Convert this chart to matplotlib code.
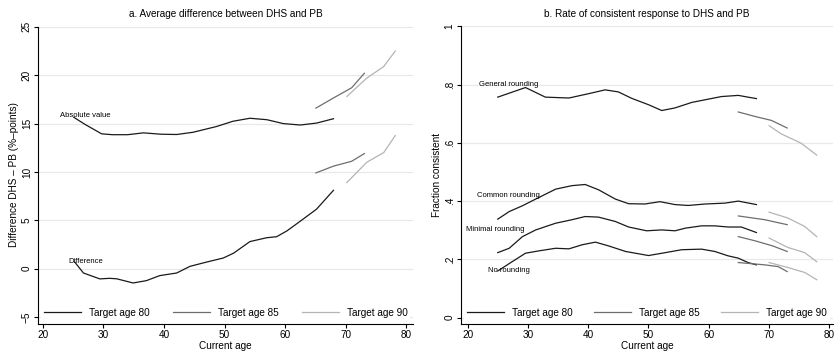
import matplotlib
matplotlib.use('Agg')
from matplotlib import pyplot as plt

plt.rcParams['font.family'] = ['Liberation Sans', 'DejaVu Sans']

# panel a: average difference DHS - PB
abs80_age = [25.1, 27.0, 29.7, 31.5, 34.0, 36.6, 39.5, 42.1, 44.8, 48.7, 51.4, 54.2, 57.0, 59.7, 62.5, 65.2, 68.0]
abs80_val = [15.65, 14.9, 13.94, 13.85, 13.85, 14.04, 13.9, 13.87, 14.1, 14.7, 15.24, 15.55, 15.4, 15.0, 14.85, 15.05, 15.5]
abs85_age = [65.1, 68.0, 71.0, 73.1]
abs85_val = [16.6, 17.65, 18.7, 20.2]
abs90_age = [70.2, 73.5, 76.3, 78.2]
abs90_val = [17.8, 19.7, 20.9, 22.5]

dif80_age = [25.3, 26.7, 29.4, 31.0, 32.2, 34.9, 37.1, 39.3, 42.1, 44.3, 47.1, 49.8, 51.5, 54.2, 57.0, 58.6, 60.3, 62.5, 65.2, 68.0]
dif80_val = [0.65, -0.45, -1.06, -1.0, -1.05, -1.48, -1.24, -0.72, -0.45, 0.24, 0.69, 1.1, 1.6, 2.8, 3.2, 3.3, 3.9, 4.9, 6.15, 8.1]
dif85_age = [65.1, 68.0, 71.0, 73.1]
dif85_val = [9.9, 10.6, 11.1, 11.9]
dif90_age = [70.2, 73.5, 76.3, 78.2]
dif90_val = [8.9, 11.0, 12.0, 13.76]

# panel b: fraction consistent
gen80_age = [25.0, 29.6, 32.9, 36.8, 40.1, 42.8, 45.0, 47.2, 50.0, 52.2, 54.4, 57.2, 59.9, 62.1, 64.9, 66.5, 67.9]
gen80_val = [0.757, 0.790, 0.757, 0.754, 0.769, 0.782, 0.775, 0.753, 0.731, 0.711, 0.720, 0.739, 0.750, 0.759, 0.763, 0.757, 0.752]
gen85_age = [64.9, 67.6, 70.4, 73.0]
gen85_val = [0.706, 0.691, 0.677, 0.651]
gen90_age = [70.0, 72.0, 75.3, 77.9]
gen90_val = [0.659, 0.631, 0.599, 0.558]

com80_age = [25.0, 26.9, 29.1, 31.3, 34.6, 37.3, 39.5, 41.7, 44.5, 46.7, 49.4, 51.9, 54.4, 56.6, 59.4, 62.7, 64.9, 67.9]
com80_val = [0.338, 0.364, 0.384, 0.407, 0.441, 0.453, 0.457, 0.439, 0.407, 0.391, 0.390, 0.398, 0.388, 0.385, 0.390, 0.393, 0.400, 0.388]
com85_age = [64.9, 69.3, 73.0]
com85_val = [0.349, 0.336, 0.319]
com90_age = [70.0, 73.1, 75.9, 77.9]
com90_val = [0.362, 0.342, 0.313, 0.278]

min80_age = [25.0, 26.9, 29.1, 31.3, 34.6, 37.3, 39.5, 41.7, 44.5, 46.7, 49.7, 52.2, 54.4, 56.1, 58.8, 61.0, 63.2, 65.4, 67.9]
min80_val = [0.223, 0.238, 0.278, 0.301, 0.324, 0.336, 0.347, 0.345, 0.330, 0.311, 0.298, 0.301, 0.298, 0.307, 0.315, 0.315, 0.311, 0.311, 0.292]
min85_age = [64.9, 67.6, 70.6, 73.0]
min85_val = [0.278, 0.264, 0.246, 0.227]
min90_age = [70.0, 73.1, 75.9, 77.9]
min90_val = [0.273, 0.241, 0.223, 0.192]

no80_age = [25.0, 27.4, 29.6, 31.8, 34.6, 36.8, 39.0, 41.2, 43.4, 46.2, 50.0, 52.8, 55.5, 58.8, 61.0, 63.2, 64.9, 66.5, 67.9]
no80_val = [0.160, 0.192, 0.221, 0.229, 0.238, 0.236, 0.250, 0.259, 0.246, 0.227, 0.213, 0.223, 0.233, 0.235, 0.227, 0.212, 0.204, 0.189, 0.181]
no85_age = [64.9, 69.3, 71.5, 73.0]
no85_val = [0.189, 0.181, 0.175, 0.158]
no90_age = [70.0, 73.1, 75.9, 77.9]
no90_val = [0.189, 0.172, 0.155, 0.130]

c80 = '#1a1a1a'
c85 = '#6e6e6e'
c90 = '#b4b4b4'
lw = 0.9

fig = plt.figure(figsize=(8.36, 3.51), dpi=100)
ax1 = fig.add_axes([0.0455, 0.077, 0.449, 0.852])
ax2 = fig.add_axes([0.5514, 0.077, 0.445, 0.852])


def style(ax, yticks, ylabels, ylim, xlim, ylab, title):
    ax.set_xlim(xlim)
    ax.set_ylim(ylim)
    ax.set_xticks([20, 30, 40, 50, 60, 70, 80])
    ax.set_yticks(yticks)
    ax.set_yticklabels(ylabels, rotation=90, va='center')
    ax.spines['top'].set_visible(False)
    ax.spines['right'].set_visible(False)
    ax.spines['left'].set_bounds(ylim[0], yticks[-1])
    ax.grid(True, axis='y', color='#e8e8e8', lw=0.9)
    ax.set_axisbelow(True)
    ax.tick_params(labelsize=7.2, length=3, width=0.8, pad=1.5)
    ax.set_xlabel('Current age', fontsize=7.2, labelpad=0.5)
    ax.set_ylabel(ylab, fontsize=7.2, labelpad=2)
    ax.set_title(title, fontsize=7.2, pad=6)
    leg = ax.legend(loc='lower center', ncol=3, fontsize=7.2, frameon=True,
                    handlelength=3.7, handletextpad=0.8, columnspacing=2.0,
                    borderaxespad=0.3, borderpad=0.3, mode='expand')
    leg.get_frame().set_edgecolor('none')
    leg.get_frame().set_facecolor('white')
    leg.get_frame().set_alpha(1)


# left panel
ax1.plot(abs80_age, abs80_val, color=c80, lw=lw, label='Target age 80')
ax1.plot(abs85_age, abs85_val, color=c85, lw=lw, label='Target age 85')
ax1.plot(abs90_age, abs90_val, color=c90, lw=lw, label='Target age 90')
ax1.plot(dif80_age, dif80_val, color=c80, lw=lw)
ax1.plot(dif85_age, dif85_val, color=c85, lw=lw)
ax1.plot(dif90_age, dif90_val, color=c90, lw=lw)
ax1.text(22.8, 15.8, 'Absolute value', fontsize=5.5, va='center')
ax1.text(24.2, 0.7, 'Difference', fontsize=5.5, va='center')
style(ax1, [-5, 0, 5, 10, 15, 20, 25], ['\u22125', '0', '5', '10', '15', '20', '25'],
      (-5.72, 25.2), (19.2, 81.2), 'Difference DHS \u2013 PB (%\u2013points)',
      'a. Average difference between DHS and PB')

# right panel
ax2.plot(gen80_age, gen80_val, color=c80, lw=lw, label='Target age 80')
ax2.plot(gen85_age, gen85_val, color=c85, lw=lw, label='Target age 85')
ax2.plot(gen90_age, gen90_val, color=c90, lw=lw, label='Target age 90')
for a80, v80, a85, v85, a90, v90 in [(com80_age, com80_val, com85_age, com85_val, com90_age, com90_val),
                                     (min80_age, min80_val, min85_age, min85_val, min90_age, min90_val),
                                     (no80_age, no80_val, no85_age, no85_val, no90_age, no90_val)]:
    ax2.plot(a80, v80, color=c80, lw=lw)
    ax2.plot(a85, v85, color=c85, lw=lw)
    ax2.plot(a90, v90, color=c90, lw=lw)
ax2.text(21.9, 0.8, 'General rounding', fontsize=5.5, va='center')
ax2.text(21.5, 0.42, 'Common rounding', fontsize=5.5, va='center')
ax2.text(19.7, 0.304, 'Minimal rounding', fontsize=5.5, va='center')
ax2.text(23.4, 0.16, 'No rounding', fontsize=5.5, va='center')
style(ax2, [0, 0.2, 0.4, 0.6, 0.8, 1], ['0', '.2', '.4', '.6', '.8', '1'],
      (-0.022, 1.005), (18.9, 80.6), 'Fraction consistent',
      'b. Rate of consistent response to DHS and PB')

fig.savefig('out.png', dpi=100)
